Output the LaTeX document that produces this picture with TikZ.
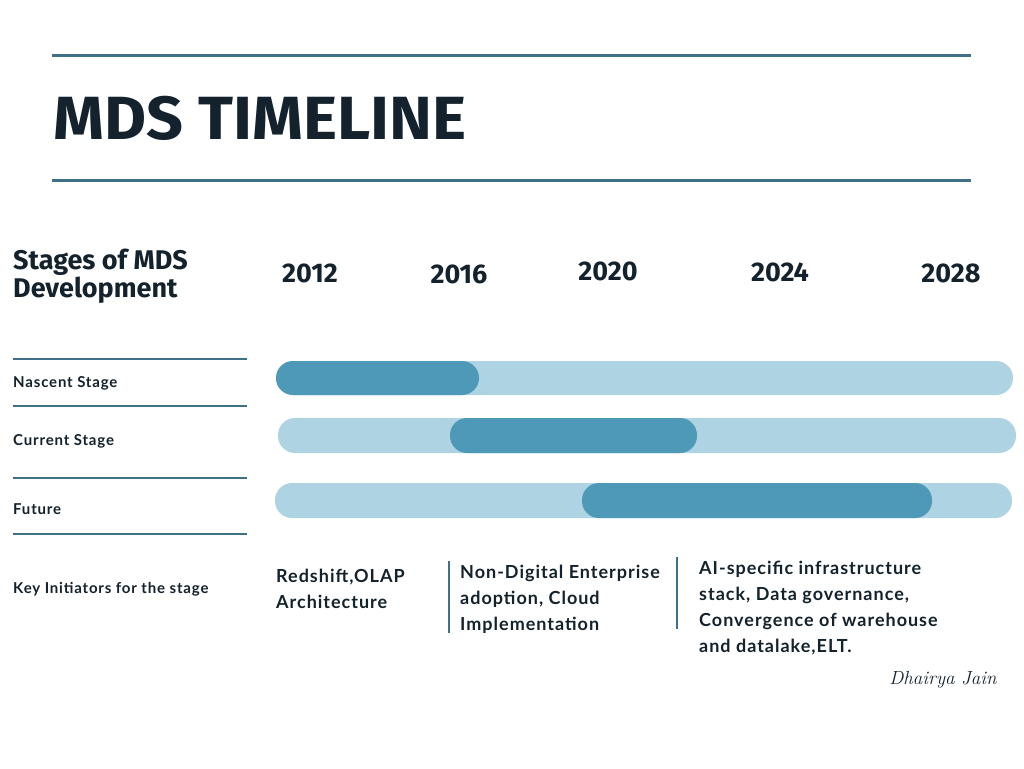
\documentclass[tikz,border=0pt]{standalone}
\usepackage{fontspec}
\newfontfamily\headfont{Fira Sans}[UprightFont=* Bold]
\newfontfamily\bodyfont{Lato}[UprightFont=* Bold, LetterSpace=5.5]
\definecolor{ink}{HTML}{13222C}
\definecolor{rule}{HTML}{3F7088}
\definecolor{track}{HTML}{AED3E2}
\definecolor{span}{HTML}{4E98B8}
\tikzset{
  rulebar/.style={draw=rule, line width=3pt},
  siderule/.style={draw=rule, line width=2pt},
  divider/.style={draw=rule, line width=1.8pt},
  year/.style={text=ink, font=\headfont\fontsize{27}{27}\selectfont, inner sep=0pt},
  stagelbl/.style={text=ink, anchor=west, inner sep=0pt, font=\bodyfont\fontsize{15}{15}\selectfont},
  note/.style={text=ink, anchor=north west, inner sep=0pt, align=left,
               font=\bodyfont\fontsize{18}{26}\selectfont},
  trackbar/.style={fill=track, rounded corners=17pt},
  spanbar/.style={fill=span, rounded corners=17pt},
}
\begin{document}
\begin{tikzpicture}[x=1pt, y=-1pt]
\useasboundingbox[fill=white] (0,0) rectangle (1024,768);

% title block
\coordinate (t1a) at (52,56);  \coordinate (t1b) at (971,56);
\coordinate (t2a) at (52,180); \coordinate (t2b) at (971,180);
\draw[rulebar] (t1a) -- (t1b);
\draw[rulebar] (t2a) -- (t2b);
\node[anchor=base west, inner sep=0pt, text=ink] (title) at (53,139)
  {\scalebox{1.06}[1]{\headfont\fontsize{61}{61}\selectfont MDS TIMELINE}};

% column heading and years
\node[anchor=north west, inner sep=0pt, align=left, text=ink,
      font=\headfont\fontsize{27}{28}\selectfont] (head) at (13,249)
  {Stages of MDS\\Development};
\node[year] (y2012) at (310,273) {2012};
\node[year] (y2016) at (459,274) {2016};
\node[year] (y2020) at (608,271) {2020};
\node[year] (y2024) at (780,272) {2024};
\node[year] (y2028) at (951,273) {2028};

% row separators
\foreach \y/\n in {359/a,406/b,478/c,534/d}{
  \coordinate (s\n1) at (13,\y); \coordinate (s\n2) at (247,\y);
  \draw[siderule] (s\n1) -- (s\n2);
}

% row labels
\node[stagelbl] (nascent) at (13,383) {Nascent Stage};
\node[stagelbl] (current) at (13,441) {Current Stage};
\node[stagelbl] (future)  at (13,509) {Future};
\node[stagelbl] (key)     at (13,589) {Key Initiators for the stage};

% timeline bars
\fill[trackbar] (276,361) rectangle (1013,395);
\fill[spanbar]  (276,361) rectangle (479,395);
\fill[trackbar] (278,418) rectangle (1016,453);
\fill[spanbar]  (450,418) rectangle (697,453);
\fill[trackbar] (275,483) rectangle (1012,518);
\fill[spanbar]  (582,483) rectangle (932,518);

% key initiators
\node[note] (n1) at (276,569) {Redshift,OLAP\\Architecture};
\coordinate (v1a) at (449,561); \coordinate (v1b) at (449,633);
\draw[divider] (v1a) -- (v1b);
\node[note] (n2) at (460,565) {Non-Digital Enterprise\\adoption, Cloud\\Implementation};
\coordinate (v2a) at (677,557); \coordinate (v2b) at (677,629);
\draw[divider] (v2a) -- (v2b);
\node[note] (n3) at (699,561) {AI-specific infrastructure\\stack, Data governance,\\Convergence of warehouse\\and datalake,ELT.};

% signature
\node[text=ink, inner sep=0pt, font=\itshape\fontsize{19}{19}\selectfont] (sig) at (943,680) {Dhairya Jain};
\end{tikzpicture}
\end{document}
